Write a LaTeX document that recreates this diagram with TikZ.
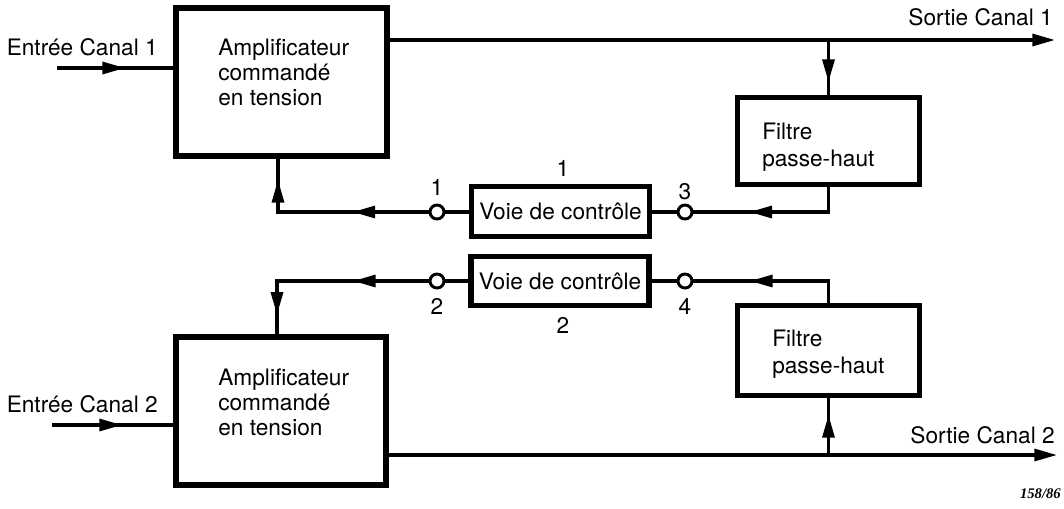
\documentclass[tikz,border=0pt]{standalone}
\usepackage{fontspec}
\setmainfont{TeX Gyre Heros}
\newfontfamily\refserif{Liberation Serif}
\usetikzlibrary{arrows.meta,decorations.markings,calc}
\tikzset{myarr/.tip={Triangle[length=17pt,width=9pt]}}
\begin{document}
\begin{tikzpicture}[x=0.75pt,y=-0.75pt,
  conn/.style={line width=2.4pt},
  blk/.style={draw,line width=3.8pt,rectangle,inner sep=0},
  lbl/.style={font=\fontsize{17pt}{18.75pt}\selectfont,inner sep=0},
  flbl/.style={font=\fontsize{17pt}{19.9pt}\selectfont,inner sep=0},
  term/.style={circle,draw,fill=white,line width=2.2pt,inner sep=0,minimum size=10.5pt},
  midarr/.style={postaction={decorate,decoration={markings,mark=at position #1 with {\arrow{myarr}}}}},
  endarr/.style={-{myarr}}
]
\useasboundingbox (0,0) rectangle (1064,508);

% blocks
\node[blk,minimum width=211*0.75pt,minimum height=148*0.75pt] (amp1) at (281.5,82) {};
\node[blk,minimum width=210*0.75pt,minimum height=148*0.75pt] (amp2) at (281,411) {};
\node[blk,minimum width=182*0.75pt,minimum height=87*0.75pt] (filt1) at (828.5,141) {};
\node[blk,minimum width=182*0.75pt,minimum height=90*0.75pt] (filt2) at (828.5,350.5) {};
\node[blk,lbl,minimum width=178*0.75pt,minimum height=50*0.75pt] (ctl1) at (560.5,211.5) {Voie de contrôle};
\node[blk,lbl,minimum width=178*0.75pt,minimum height=49*0.75pt] (ctl2) at (560,281) {Voie de contrôle};

% block texts (base anchor = last line baseline)
\node[lbl,anchor=base west,align=left] (amp1t) at (218,105) {Amplificateur\\commandé\\en tension};
\node[lbl,anchor=base west,align=left] (amp2t) at (218,435) {Amplificateur\\commandé\\en tension};
\node[flbl,anchor=base west,align=left] (filt1t) at (762,166) {Filtre\\passe-haut};
\node[flbl,anchor=base west,align=left] (filt2t) at (772,373.5) {Filtre\\passe-haut};

% terminals
\node[term] (t1) at (437,212) {};
\node[term] (t3) at (685,212) {};
\node[term] (t2) at (437,281) {};
\node[term] (t4) at (685,281) {};

% labels
\node[lbl] (l1) at (437,187) {1};
\node[lbl] (l3) at (685,192) {3};
\node[lbl] (lc1) at (563,168) {1};
\node[lbl] (l2) at (437,306) {2};
\node[lbl] (l4) at (685,306) {4};
\node[lbl] (lc2) at (563,325) {2};

\node[lbl,anchor=base east] (in1t) at (158,55) {Entrée Canal 1};
\node[lbl,anchor=base east] (in2t) at (158,412) {Entrée Canal 2};
\node[lbl,anchor=base east] (out1t) at (1053,25) {Sortie Canal 1};
\node[lbl,anchor=base east] (out2t) at (1055,443) {Sortie Canal 2};
\node[font=\refserif\fontsize{11pt}{13pt}\selectfont\bfseries\itshape,anchor=base east,inner sep=0] (ref) at (1061,498) {158/86};

% coordinates
\coordinate (in1) at (57,68);
\coordinate (in2) at (52,425);
\coordinate (out1) at (1055,40);
\coordinate (out2) at (1057,455);
\coordinate (fb1) at (278,212);
\coordinate (fb2) at (277,281);

% connectors channel 1
\draw[conn,midarr=51pt] (in1) -- (in1 -| amp1.west);
\draw[conn,endarr] (out1 -| amp1.east) -- (out1);
\draw[conn,midarr=31.5pt] (filt1.north |- out1) -- (filt1.north);
\draw[conn,midarr=78pt] (filt1.south) |- (t3.east);
\draw[conn] (t3.west) -- (t3 -| ctl1.east);
\draw[conn] (t1 -| ctl1.west) -- (t1.east);
\draw[conn,midarr=57pt,midarr=137pt] (t1.west) -- (fb1) -- (fb1 |- amp1.south);

% connectors channel 2
\draw[conn,midarr=52.5pt] (in2) -- (in2 -| amp2.west);
\draw[conn,endarr] (out2 -| amp2.east) -- (out2);
\draw[conn,midarr=30pt] (filt2.south |- out2) -- (filt2.south);
\draw[conn,midarr=75.4pt] (filt2.north) |- (t4.east);
\draw[conn] (t4.west) -- (t4 -| ctl2.east);
\draw[conn] (t2 -| ctl2.west) -- (t2.east);
\draw[conn,midarr=56.6pt,midarr=139pt] (t2.west) -- (fb2) -- (fb2 |- amp2.north);
\end{tikzpicture}
\end{document}
